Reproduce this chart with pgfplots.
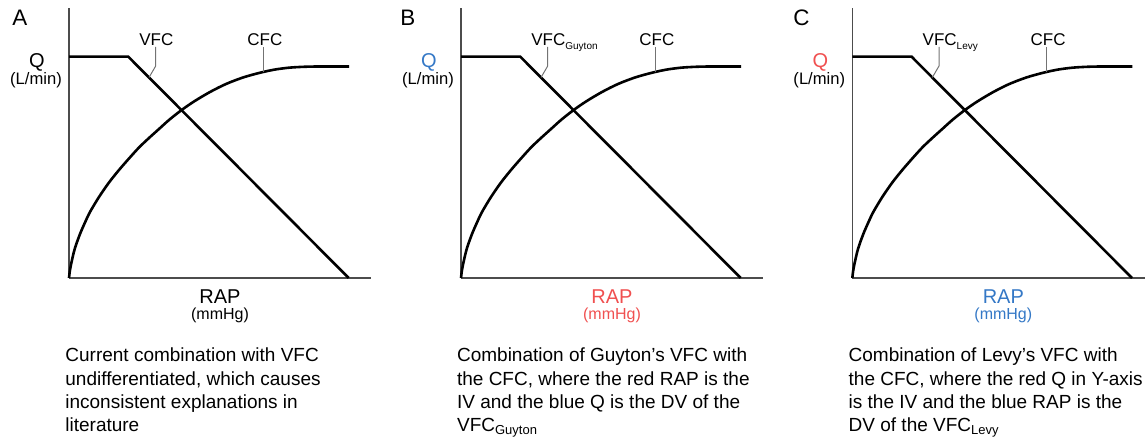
\documentclass[border=0pt]{standalone}
\usepackage{fontspec}
\setmainfont{Liberation Sans}
\usepackage{pgfplots}
\usepackage{pgfplotstable}
\pgfplotsset{compat=1.18}
\definecolor{myblue}{RGB}{52,120,198}
\definecolor{myred}{RGB}{240,80,80}

\pgfplotstableread{
x y
0 0
1 8
3 18
6 30
11 44
16 55.5
21 66
30 81
40 95.5
50 108
60 119.5
70 130.5
80 140
90 149
100 158
112 167.5
125 176.5
141 186
157 194
174 200.5
190 205
205 208.3
220 210.3
235 211.2
250 211.5
280 211.5
}\cfc

\pgfplotstableread{
x y
0 221.3
59.3 221.3
279.7 0
}\vfc

\pgfplotsset{panel/.style={
  scale only axis, width=151pt, height=135pt,
  xmin=0, xmax=302, ymin=0, ymax=270,
  axis lines=left, axis line style={-, line width=0.6pt, black!70},
  xtick=\empty, ytick=\empty, clip=false,
  anchor=south west
}}

\newcommand{\lab}{\fontsize{8.5}{10}\selectfont}
\newcommand{\capf}{\fontsize{9.5}{11.5}\selectfont}

\begin{document}
\begin{tikzpicture}[x=0.5pt,y=0.5pt]
% Panel axes
\foreach \ox/\oxpt in {69/34.5, 461/230.5, 852.3/426.15}{
\begin{axis}[panel, at={(\oxpt pt,80.5pt)}]
\addplot[line width=1.3pt, black, smooth] table {\cfc};
\addplot[line width=1.3pt, black] table {\vfc};
\draw[black!55, line width=0.5pt] (axis cs:86.7,231) -- (axis cs:86.7,212) -- (axis cs:80,200.5);
\draw[black!55, line width=0.5pt] (axis cs:194.3,231) -- (axis cs:194.3,206);
\end{axis}
}

% Panel letters
\node[anchor=base west, inner sep=0, font=\fontsize{11.2}{13}\selectfont] at (12,413) {A};
\node[anchor=base west, inner sep=0, font=\fontsize{11.2}{13}\selectfont] at (400,413) {B};
\node[anchor=base west, inner sep=0, font=\fontsize{11.2}{13}\selectfont] at (793,413) {C};

% Y labels
\node[anchor=base, inner sep=0, font=\fontsize{10}{12}\selectfont] at (69-32,371) {Q};
\node[anchor=base, inner sep=0, font=\fontsize{10}{12}\selectfont, text=myblue] at (461-32,371) {Q};
\node[anchor=base, inner sep=0, font=\fontsize{10}{12}\selectfont, text=myred] at (852.3-32,371) {Q};
\foreach \ox in {69,461,852.3}{
\node[anchor=base, inner sep=0, font=\fontsize{8.3}{10}\selectfont] at (\ox-33,354) {(L/min)};
\node[anchor=base west, inner sep=0, font=\lab] at (\ox+178,393) {CFC};
}

% Curve labels
\node[anchor=base west, inner sep=0, font=\lab] at (69+70,393) {VFC};
\node[anchor=base west, inner sep=0, font=\lab] at (461+70,393) {VFC\raisebox{-1.75pt}{\fontsize{5}{6}\selectfont Guyton}};
\node[anchor=base west, inner sep=0, font=\lab] at (852.3+70,393) {VFC\raisebox{-1.75pt}{\fontsize{5}{6}\selectfont Levy}};

% X labels
\node[anchor=base, inner sep=0, font=\fontsize{10}{12}\selectfont] at (69+151,135) {RAP};
\node[anchor=base, inner sep=0, font=\fontsize{8}{10}\selectfont] at (69+151,119.4) {(mmHg)};
\node[anchor=base, inner sep=0, font=\fontsize{10}{12}\selectfont, text=myred] at (461+151,135) {RAP};
\node[anchor=base, inner sep=0, font=\fontsize{8}{10}\selectfont, text=myred] at (461+151,119.4) {(mmHg)};
\node[anchor=base, inner sep=0, font=\fontsize{10}{12}\selectfont, text=myblue] at (852.3+151,135) {RAP};
\node[anchor=base, inner sep=0, font=\fontsize{8}{10}\selectfont, text=myblue] at (852.3+151,119.4) {(mmHg)};

% Captions
\node[anchor=base west, inner sep=0, font=\capf] at (65,77) {Current combination with VFC};
\node[anchor=base west, inner sep=0, font=\capf] at (65,54) {undifferentiated, which causes};
\node[anchor=base west, inner sep=0, font=\capf] at (65,31) {inconsistent explanations in};
\node[anchor=base west, inner sep=0, font=\capf] at (65,8) {literature};

\node[anchor=base west, inner sep=0, font=\capf] at (456.7,77) {Combination of Guyton’s VFC with};
\node[anchor=base west, inner sep=0, font=\capf] at (456.7,54) {the CFC, where the red RAP is the};
\node[anchor=base west, inner sep=0, font=\capf] at (456.7,31) {IV and the blue Q is the DV of the};
\node[anchor=base west, inner sep=0, font=\capf] at (456.7,8) {VFC\raisebox{-1.75pt}{\fontsize{6.5}{7}\selectfont Guyton}};

\node[anchor=base west, inner sep=0, font=\capf] at (848.3,77) {Combination of Levy’s VFC with};
\node[anchor=base west, inner sep=0, font=\capf] at (848.3,54) {the CFC, where the red Q in Y-axis};
\node[anchor=base west, inner sep=0, font=\capf] at (848.3,31) {is the IV and the blue RAP is the};
\node[anchor=base west, inner sep=0, font=\capf] at (848.3,8) {DV of the VFC\raisebox{-1.75pt}{\fontsize{6.5}{7}\selectfont Levy}};

\pgfresetboundingbox
\path (0,0) rectangle (1145,439);
\end{tikzpicture}
\end{document}
